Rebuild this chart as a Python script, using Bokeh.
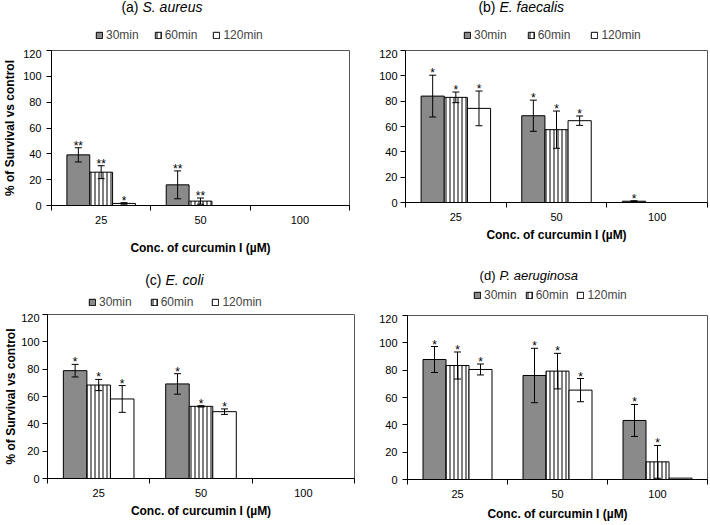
from bokeh.plotting import figure
from bokeh.layouts import column, row
from bokeh.models import (Range1d, FixedTicker, Legend, LegendItem, Label, Whisker,
                          ColumnDataSource, TeeHead)
from bokeh.core.properties import value
from bokeh.embed import file_html
from bokeh.resources import INLINE

# ---------------- data ----------------
concs = ["25", "50", "100"]
times = ["30min", "60min", "120min"]
yticks = [0, 20, 40, 60, 80, 100, 120]
x_title = "Conc. of curcumin I (\u00b5M)"
y_title = "% of Survival vs control"

# (a) S. aureus
sa_30 = [39.2, 16.0, 0.0]
sa_60 = [25.8, 3.4, 0.0]
sa_120 = [1.6, 0.0, 0.0]
sa_30_err = [5.5, 10.8, 0.0]
sa_60_err = [5.0, 2.4, 0.0]
sa_120_err = [0.6, 0.0, 0.0]
sa_30_sig = ["**", "**", ""]
sa_60_sig = ["**", "**", ""]
sa_120_sig = ["*", "", ""]

# (b) E. faecalis
ef_30 = [84.0, 68.5, 1.0]
ef_60 = [83.0, 57.5, 0.0]
ef_120 = [74.3, 64.6, 0.0]
ef_30_err = [16.5, 12.3, 0.4]
ef_60_err = [4.2, 14.7, 0.0]
ef_120_err = [13.7, 3.7, 0.0]
ef_30_sig = ["*", "*", "*"]
ef_60_sig = ["*", "*", ""]
ef_120_sig = ["*", "*", ""]

# (c) E. coli
ec_30 = [78.9, 69.2, 0.0]
ec_60 = [68.4, 52.8, 0.0]
ec_120 = [58.2, 48.9, 0.0]
ec_30_err = [4.6, 7.5, 0.0]
ec_60_err = [4.1, 0.5, 0.0]
ec_120_err = [9.8, 2.0, 0.0]
ec_30_sig = ["*", "*", ""]
ec_60_sig = ["*", "*", ""]
ec_120_sig = ["*", "*", ""]

# (d) P. aeruginosa
pa_30 = [87.8, 76.1, 43.2]
pa_60 = [83.4, 79.3, 12.9]
pa_120 = [80.5, 65.4, 1.0]
pa_30_err = [9.5, 19.9, 11.7]
pa_60_err = [9.9, 13.0, 12.0]
pa_120_err = [4.0, 8.5, 0.0]
pa_30_sig = ["*", "*", "*"]
pa_60_sig = ["*", "*", "*"]
pa_120_sig = ["*", "*", ""]

FONT = "Liberation Sans"
BAR_W = 0.23
OFFSETS = [-BAR_W, 0.0, BAR_W]
STYLES = [
    dict(fill_color="#8a8a8a"),
    dict(fill_color="white", hatch_pattern="vertical_line", hatch_color="black",
         hatch_scale=4, hatch_weight=1),
    dict(fill_color="white"),
]


def make_panel(prefix, species, means, errs, sigs, cfg, ylabel):
    x_rng = Range1d(-0.5, len(concs) - 0.5)
    y_rng = Range1d(0, yticks[-1])
    sources = [ColumnDataSource(dict(x=[i + OFFSETS[k] for i in range(len(concs))],
                                     top=means[k])) for k in range(len(times))]

    # ---- header: title + legend ----
    h = figure(width=cfg["w"], height=cfg["hh"], x_range=x_rng,
               y_range=Range1d(-100000, -99999),
               x_axis_location=None, y_axis_location=None, title_location=None,
               output_backend="svg", toolbar_location=None,
               min_border_left=cfg["ml"], min_border_right=cfg["mr"],
               min_border_top=0, min_border_bottom=0)
    h.outline_line_color = None
    h.grid.visible = False

    items = []
    for k, t in enumerate(times):
        # legend proxies: same data and style, muted to fully transparent in the plot
        proxy = h.vbar(x="x", top="top", width=BAR_W, bottom=0, source=sources[k],
                       line_color="black", line_width=1, muted_alpha=0, **STYLES[k])
        proxy.muted = True
        items.append(LegendItem(label=t, renderers=[proxy]))
    leg = Legend(items=items, orientation="horizontal",
                 location=(cfg["lx"], cfg["ly"]), spacing=cfg["ls"],
                 padding=0, margin=0, glyph_width=8, glyph_height=8,
                 label_standoff=3, label_height=12,
                 label_text_font=FONT, label_text_font_size="12px",
                 border_line_alpha=0, background_fill_alpha=0)
    h.add_layout(leg)
    h.add_layout(Label(x=cfg["tx"] - 4, y=cfg["ty"], x_units="screen", y_units="screen",
                       text=prefix, text_align="right", text_baseline="middle",
                       text_font=FONT, text_font_size=cfg["tfs"], text_color="black"))
    h.add_layout(Label(x=cfg["tx"], y=cfg["ty"], x_units="screen", y_units="screen",
                       text=species, text_align="left", text_baseline="middle",
                       text_font=FONT, text_font_size=cfg["tfs"], text_font_style="italic",
                       text_color="black"))

    # ---- main chart ----
    p = figure(width=cfg["w"], height=cfg["hm"], x_range=x_rng, y_range=y_rng,
               title_location=None, output_backend="svg", toolbar_location=None,
               min_border_left=cfg["ml"], min_border_right=cfg["mr"],
               min_border_top=1, min_border_bottom=cfg["mb"])
    p.xgrid.visible = False
    p.ygrid.visible = False
    p.outline_line_color = "#555555"
    p.outline_line_width = 1

    for k, t in enumerate(times):
        xs = sources[k].data["x"]
        p.vbar(x="x", top="top", width=BAR_W, bottom=0, source=sources[k],
               line_color="black", line_width=1, **STYLES[k])

        keep = [j for j in range(len(concs)) if errs[k][j] > 0]
        wsrc = ColumnDataSource(dict(
            x=[xs[j] for j in keep],
            upper=[means[k][j] + errs[k][j] for j in keep],
            lower=[means[k][j] - errs[k][j] for j in keep]))
        w = Whisker(base="x", upper="upper", lower="lower", source=wsrc,
                    line_color="black", line_width=1, level="annotation",
                    upper_head=TeeHead(size=7, line_color="black", line_width=1),
                    lower_head=TeeHead(size=7, line_color="black", line_width=1))
        p.add_layout(w)

        sk = [j for j in range(len(concs)) if sigs[k][j]]
        ssrc = ColumnDataSource(dict(
            x=[xs[j] for j in sk],
            y=[means[k][j] + errs[k][j] for j in sk],
            t=[sigs[k][j] for j in sk]))
        p.text(x="x", y="y", text="t", source=ssrc, text_align="center",
               text_baseline="alphabetic", y_offset=-2,
               text_font=value(FONT), text_font_size="12px", text_color="black")

    xa = p.xaxis[0]
    xa.ticker = FixedTicker(ticks=list(range(len(concs))),
                            minor_ticks=[i - 0.5 for i in range(len(concs) + 1)])
    xa.major_label_overrides = {i: c for i, c in enumerate(concs)}
    xa.major_tick_out = 0
    xa.major_tick_in = 0
    xa.minor_tick_out = 5
    xa.minor_tick_in = 0
    xa.minor_tick_line_color = "black"
    xa.major_label_standoff = 5
    xa.axis_label = x_title
    xa.axis_label_text_font = FONT
    xa.axis_label_text_font_style = "bold"
    xa.axis_label_text_font_size = "12px"
    xa.axis_label_standoff = cfg["xs"]

    ya = p.yaxis[0]
    ya.ticker = FixedTicker(ticks=yticks, minor_ticks=[])
    ya.major_tick_out = 5
    ya.major_tick_in = 0
    ya.minor_tick_out = 0
    ya.minor_tick_in = 0
    ya.major_label_standoff = cfg["ys"]
    if ylabel:
        ya.axis_label = y_title
        ya.axis_label_text_font = FONT
        ya.axis_label_text_font_style = "bold"
        ya.axis_label_text_font_size = "12px"
        ya.axis_label_standoff = cfg["yls"]

    for ax in (xa, ya):
        ax.axis_line_color = "black"
        ax.major_tick_line_color = "black"
        ax.major_label_text_font = FONT
        ax.major_label_text_font_size = "11px"
        ax.major_label_text_color = "black"
        ax.axis_label_text_color = "black"
    return column(h, p)


cfg_a = dict(w=355, hh=49, hm=213, ml=51, mr=6, mb=57, lx=44, ly=7, ls=15,
             tx=91, ty=43, tfs="14px", xs=14, ys=5, yls=3)
cfg_b = dict(w=355, hh=49, hm=213, ml=50, mr=3, mb=60, lx=58, ly=7, ls=20,
             tx=94, ty=43, tfs="14px", xs=4, ys=3, yls=0)
cfg_c = dict(w=355, hh=51, hm=212, ml=47, mr=1, mb=47, lx=41, ly=4, ls=18,
             tx=118, ty=34, tfs="14px", xs=4, ys=3, yls=0)
cfg_d = dict(w=355, hh=52, hm=211, ml=52, mr=3, mb=46, lx=66, ly=12, ls=8,
             tx=92, ty=39, tfs="13px", xs=6, ys=5, yls=0)

pa = make_panel("(a)", "S. aureus", [sa_30, sa_60, sa_120],
                [sa_30_err, sa_60_err, sa_120_err], [sa_30_sig, sa_60_sig, sa_120_sig],
                cfg_a, True)
pb = make_panel("(b)", "E. faecalis", [ef_30, ef_60, ef_120],
                [ef_30_err, ef_60_err, ef_120_err], [ef_30_sig, ef_60_sig, ef_120_sig],
                cfg_b, False)
pc = make_panel("(c)", "E. coli", [ec_30, ec_60, ec_120],
                [ec_30_err, ec_60_err, ec_120_err], [ec_30_sig, ec_60_sig, ec_120_sig],
                cfg_c, True)
pd = make_panel("(d)", "P. aeruginosa", [pa_30, pa_60, pa_120],
                [pa_30_err, pa_60_err, pa_120_err], [pa_30_sig, pa_60_sig, pa_120_sig],
                cfg_d, False)

layout = column(row(pa, pb), row(pc, pd))
open("out.html", "w").write(file_html(layout, INLINE))
